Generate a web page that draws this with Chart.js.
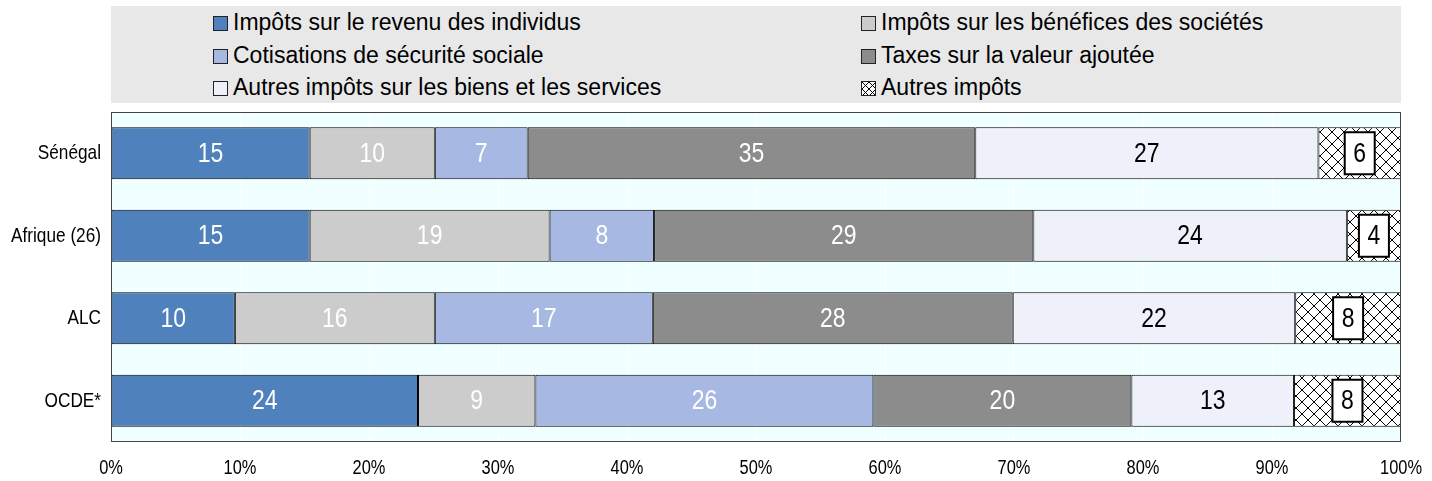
<!DOCTYPE html>
<html>
<head>
<meta charset="utf-8">
<script src="https://cdn.jsdelivr.net/npm/chart.js"></script>
<style>
  body { margin: 0; background: #fff; }
  #wrap { position: relative; width: 1432px; height: 481px; }
  #legende { position: absolute; left: 111px; top: 6px; width: 1290px; height: 97px; background: #e8e8e8;
             font-family: "Liberation Sans", Arial, sans-serif; font-size: 23px; color: #000; }
  .item { position: absolute; height: 30px; line-height: 30px; white-space: nowrap; }
  .carre { display: inline-block; width: 13px; height: 13px; border: 1px solid #222; margin-right: 5px; vertical-align: -1px; }
  canvas { position: absolute; left: 0; top: 0; }
</style>
</head>
<body>
<div id="wrap">
  <canvas id="grafico" width="1432" height="481"></canvas>
  <div id="legende"></div>
</div>
<script>
// pays / régions
var categories = ['Sénégal', 'Afrique (26)', 'ALC', 'OCDE*'];

// part de chaque impôt dans les recettes totales (%)
var revenuIndividus = [15.4, 15.4, 9.6, 23.8];
var beneficesSocietes = [9.7, 18.6, 15.5, 9.1];
var securiteSociale = [7.2, 8.1, 16.9, 26.2];
var tva = [34.7, 29.4, 27.9, 20.0];
var autresBiensServices = [26.6, 24.3, 21.9, 12.6];
var autresImpots = [6.4, 4.2, 8.2, 8.3];

var nomsSeries = [
  'Impôts sur le revenu des individus',
  'Impôts sur les bénéfices des sociétés',
  'Cotisations de sécurité sociale',
  'Taxes sur la valeur ajoutée',
  'Autres impôts sur les biens et les services',
  'Autres impôts'
];
var couleurs = ['#4f81bd', '#cccccc', '#a7b9e3', '#8c8c8c', '#eef1f9', null];
var xTicks = [0, 10, 20, 30, 40, 50, 60, 70, 80, 90, 100];

var police = '"Liberation Sans", Arial, sans-serif';

var canvas = document.getElementById('grafico');
var ctx = canvas.getContext('2d');

// texte étroit (pas d'Arial Narrow installé -> on compresse en largeur)
function texteEtroit(c, txt, x, y, taille, align) {
  c.save();
  c.font = taille + 'px ' + police;
  c.translate(x, y);
  c.scale(0.82, 1);
  c.textAlign = align;
  c.textBaseline = 'middle';
  c.fillText(txt, 0, 0);
  c.restore();
}

// motif quadrillé pour "Autres impôts"
function motif() {
  var c = document.createElement('canvas');
  c.width = 12; c.height = 12;
  var g = c.getContext('2d');
  g.fillStyle = '#fff';
  g.fillRect(0, 0, 12, 12);
  g.strokeStyle = '#000';
  g.lineWidth = 1;
  g.beginPath();
  g.moveTo(0, 0); g.lineTo(12, 12);
  g.moveTo(12, 0); g.lineTo(0, 12);
  g.stroke();
  return ctx.createPattern(c, 'repeat');
}
couleurs[5] = motif();

// legende HTML (2 colonnes, 3 lignes)
var legende = document.getElementById('legende');
var ordre = [0, 2, 4, 1, 3, 5];
for (var k = 0; k < ordre.length; k++) {
  var i = ordre[k];
  var col = k < 3 ? 0 : 1;
  var row = k % 3;
  var div = document.createElement('div');
  div.className = 'item';
  div.style.left = (col === 0 ? 102 : 750) + 'px';
  div.style.top = (1 + row * 32.5) + 'px';
  var sq = document.createElement('span');
  sq.className = 'carre';
  if (i === 5) {
    sq.style.background = 'linear-gradient(45deg,transparent 45%,#000 45%,#000 55%,transparent 55%),linear-gradient(-45deg,transparent 45%,#000 45%,#000 55%,transparent 55%),#fff';
    sq.style.backgroundSize = '7px 7px';
  } else {
    sq.style.background = couleurs[i];
  }
  div.appendChild(sq);
  div.appendChild(document.createTextNode(nomsSeries[i]));
  legende.appendChild(div);
}

var series = [revenuIndividus, beneficesSocietes, securiteSociale, tva, autresBiensServices, autresImpots];
var datasets = [];
for (var s = 0; s < series.length; s++) {
  datasets.push({
    label: nomsSeries[s],
    data: series[s],
    backgroundColor: couleurs[s],
    borderColor: '#000',
    borderWidth: 1,
    borderSkipped: false,
    barPercentage: 0.63,
    categoryPercentage: 1
  });
}

var fond = {
  id: 'fond',
  beforeDraw: function(chart) {
    var a = chart.chartArea, c = chart.ctx;
    c.save();
    c.fillStyle = '#f0ffff';
    c.fillRect(a.left, a.top, a.right - a.left, a.bottom - a.top);
    c.restore();
  },
  afterDraw: function(chart) {
    var a = chart.chartArea, c = chart.ctx;
    c.save();
    c.strokeStyle = '#444';
    c.lineWidth = 1;
    c.strokeRect(Math.round(a.left) + 0.5, Math.round(a.top) + 0.5, a.right - a.left - 1, a.bottom - a.top - 1);
    c.fillStyle = '#000';
    // étiquettes des axes
    var xs = chart.scales.x, ys = chart.scales.y;
    xTicks.forEach(function(v) {
      texteEtroit(c, v + '%', xs.getPixelForValue(v), 468, 20, 'center');
    });
    categories.forEach(function(cat, j) {
      texteEtroit(c, cat, 101, ys.getPixelForValue(j), 21, 'right');
    });
    c.restore();
  }
};

var etiquettes = {
  id: 'etiquettes',
  afterDatasetsDraw: function(chart) {
    var c = chart.ctx;
    chart.data.datasets.forEach(function(ds, i) {
      chart.getDatasetMeta(i).data.forEach(function(bar, j) {
        var v = Math.round(ds.data[j]);
        var cx = (bar.x + bar.base) / 2;
        var cy = bar.y;
        c.save();
        if (i === 5) {
          c.fillStyle = '#fff';
          c.fillRect(cx - 15, cy - 21, 30, 42);
          c.strokeStyle = '#000';
          c.lineWidth = 2;
          c.strokeRect(cx - 15, cy - 21, 30, 42);
        }
        c.fillStyle = i < 4 ? '#fff' : '#000';
        texteEtroit(c, String(v), cx, cy + 1, 28, 'center');
        c.restore();
      });
    });
  }
};

var chart = new Chart(ctx, {
  type: 'bar',
  data: { labels: categories, datasets: datasets },
  options: {
    indexAxis: 'y',
    responsive: false,
    animation: false,
    devicePixelRatio: 1,
    layout: { padding: { top: 112, right: 31, left: 0, bottom: 0 } },
    plugins: { legend: { display: false }, tooltip: { enabled: false } },
    scales: {
      x: {
        stacked: true,
        min: 0,
        max: 100,
        afterFit: function(scale) { scale.height = 39; },
        afterBuildTicks: function(scale) { scale.ticks = xTicks.map(function(v) { return { value: v }; }); },
        ticks: { display: false },
        grid: { color: '#ffffff', lineWidth: 1, drawTicks: false },
        border: { display: false }
      },
      y: {
        stacked: true,
        afterFit: function(scale) { scale.width = 111; },
        ticks: { display: false },
        grid: { display: false, drawTicks: false },
        border: { display: false }
      }
    }
  },
  plugins: [fond, etiquettes]
});
</script>
</body>
</html>
